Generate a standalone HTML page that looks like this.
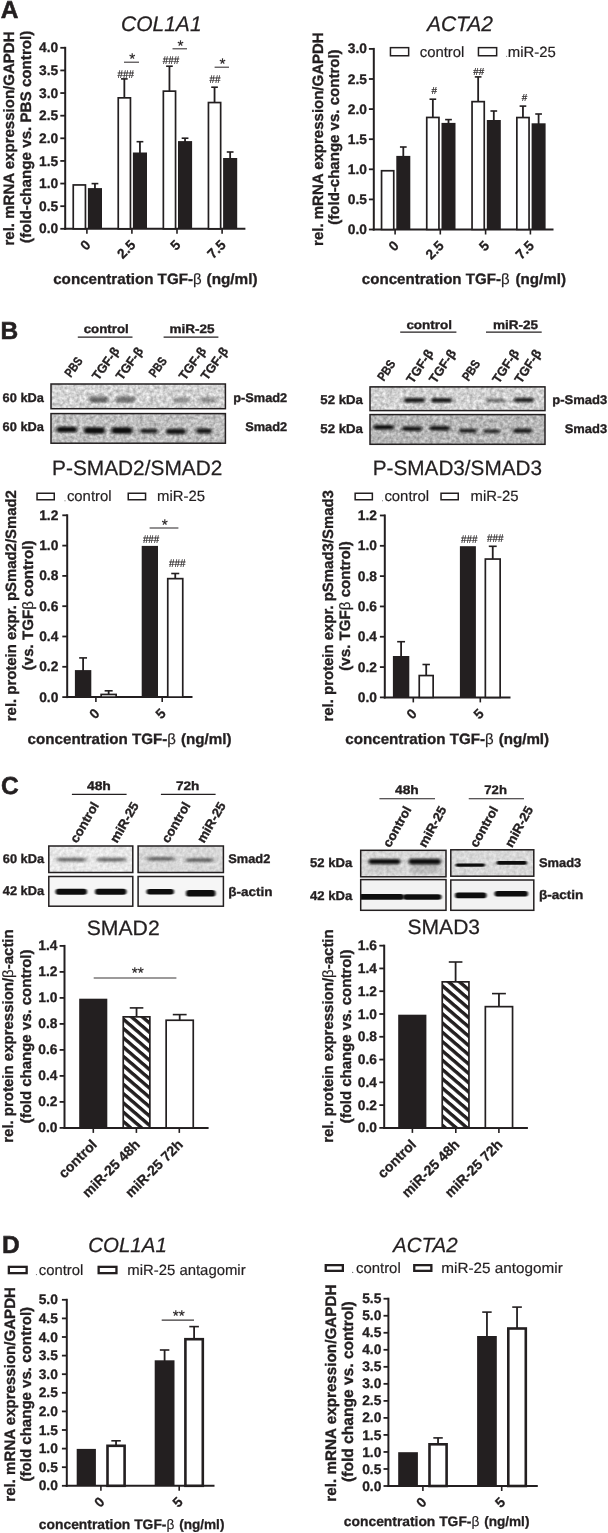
<!DOCTYPE html>
<html><head><meta charset="utf-8"><title>Figure</title>
<style>
html,body{margin:0;padding:0;background:#fff;}
body{width:608px;height:1533px;overflow:hidden;font-family:"Liberation Sans",sans-serif;}
svg{display:block;font-family:"Liberation Sans",sans-serif;will-change:transform;text-rendering:geometricPrecision;}
</style></head><body>
<svg width="608" height="1533" viewBox="0 0 608 1533">
<defs>
<pattern id="hatch" width="7.06" height="7.06" patternUnits="userSpaceOnUse" patternTransform="rotate(40.6)">
<rect width="7.06" height="7.06" fill="#fff"/><rect x="0" y="0" width="7.06" height="3.4" fill="#231f20"/></pattern>
<filter id="b1" x="-30%" y="-200%" width="160%" height="500%"><feGaussianBlur stdDeviation="1.7 0.9"/></filter>
<filter id="b2" x="-30%" y="-200%" width="160%" height="500%"><feGaussianBlur stdDeviation="2 1.1"/></filter>
<filter id="b3" x="-30%" y="-100%" width="160%" height="300%"><feGaussianBlur stdDeviation="1 0.6"/></filter>
<filter id="grain" x="0" y="0" width="100%" height="100%" color-interpolation-filters="sRGB"><feTurbulence type="fractalNoise" baseFrequency="0.3" numOctaves="2" seed="5" result="t"/><feColorMatrix in="t" type="matrix" values="1 0 0 0 0  1 0 0 0 0  1 0 0 0 0  0 0 0 0 1" result="n"/><feComposite in="SourceGraphic" in2="n" operator="arithmetic" k1="0" k2="1" k3="0.45" k4="-0.225"/></filter>
<filter id="grain2" x="0" y="0" width="100%" height="100%" color-interpolation-filters="sRGB"><feTurbulence type="fractalNoise" baseFrequency="0.3" numOctaves="2" seed="9" result="t"/><feColorMatrix in="t" type="matrix" values="1 0 0 0 0  1 0 0 0 0  1 0 0 0 0  0 0 0 0 1" result="n"/><feComposite in="SourceGraphic" in2="n" operator="arithmetic" k1="0" k2="1" k3="0.22" k4="-0.11"/></filter>
</defs>
<text x="0.80" y="17.80" font-size="24.5" font-weight="bold" text-anchor="start" fill="#231f20" stroke="#231f20" stroke-width="0.54">A</text>
<text x="161.30" y="31.30" font-size="21" font-weight="normal" text-anchor="middle" font-style="italic" fill="#231f20" stroke="#231f20" stroke-width="0.25">COL1A1</text>
<text x="460.00" y="31.30" font-size="21" font-weight="normal" text-anchor="middle" font-style="italic" fill="#231f20" stroke="#231f20" stroke-width="0.25">ACTA2</text>
<line x1="65.20" y1="46.80" x2="65.20" y2="229.80" stroke="#231f20" stroke-width="2.0" stroke-linecap="butt"/>
<line x1="64.20" y1="228.80" x2="245.40" y2="228.80" stroke="#231f20" stroke-width="2.0" stroke-linecap="butt"/>
<line x1="60.30" y1="228.80" x2="65.20" y2="228.80" stroke="#231f20" stroke-width="1.8" stroke-linecap="butt"/>
<text x="58.15" y="233.38" font-size="13.8" font-weight="bold" text-anchor="end" fill="#231f20" stroke="#231f20" stroke-width="0.30">0.0</text>
<line x1="60.30" y1="206.18" x2="65.20" y2="206.18" stroke="#231f20" stroke-width="1.8" stroke-linecap="butt"/>
<text x="58.15" y="210.76" font-size="13.8" font-weight="bold" text-anchor="end" fill="#231f20" stroke="#231f20" stroke-width="0.30">0.5</text>
<line x1="60.30" y1="183.55" x2="65.20" y2="183.55" stroke="#231f20" stroke-width="1.8" stroke-linecap="butt"/>
<text x="58.15" y="188.13" font-size="13.8" font-weight="bold" text-anchor="end" fill="#231f20" stroke="#231f20" stroke-width="0.30">1.0</text>
<line x1="60.30" y1="160.93" x2="65.20" y2="160.93" stroke="#231f20" stroke-width="1.8" stroke-linecap="butt"/>
<text x="58.15" y="165.51" font-size="13.8" font-weight="bold" text-anchor="end" fill="#231f20" stroke="#231f20" stroke-width="0.30">1.5</text>
<line x1="60.30" y1="138.30" x2="65.20" y2="138.30" stroke="#231f20" stroke-width="1.8" stroke-linecap="butt"/>
<text x="58.15" y="142.88" font-size="13.8" font-weight="bold" text-anchor="end" fill="#231f20" stroke="#231f20" stroke-width="0.30">2.0</text>
<line x1="60.30" y1="115.68" x2="65.20" y2="115.68" stroke="#231f20" stroke-width="1.8" stroke-linecap="butt"/>
<text x="58.15" y="120.26" font-size="13.8" font-weight="bold" text-anchor="end" fill="#231f20" stroke="#231f20" stroke-width="0.30">2.5</text>
<line x1="60.30" y1="93.05" x2="65.20" y2="93.05" stroke="#231f20" stroke-width="1.8" stroke-linecap="butt"/>
<text x="58.15" y="97.63" font-size="13.8" font-weight="bold" text-anchor="end" fill="#231f20" stroke="#231f20" stroke-width="0.30">3.0</text>
<line x1="60.30" y1="70.43" x2="65.20" y2="70.43" stroke="#231f20" stroke-width="1.8" stroke-linecap="butt"/>
<text x="58.15" y="75.01" font-size="13.8" font-weight="bold" text-anchor="end" fill="#231f20" stroke="#231f20" stroke-width="0.30">3.5</text>
<line x1="60.30" y1="47.80" x2="65.20" y2="47.80" stroke="#231f20" stroke-width="1.8" stroke-linecap="butt"/>
<text x="58.15" y="52.38" font-size="13.8" font-weight="bold" text-anchor="end" fill="#231f20" stroke="#231f20" stroke-width="0.30">4.0</text>
<text x="14.00" y="138.50" font-size="15.02" font-weight="bold" text-anchor="middle" transform="rotate(-90 14.00 138.50)" fill="#231f20" textLength="214.0" lengthAdjust="spacingAndGlyphs" stroke="#231f20" stroke-width="0.33">rel. mRNA expression/GAPDH</text>
<text x="31.00" y="136.85" font-size="15.16" font-weight="bold" text-anchor="middle" transform="rotate(-90 31.00 136.85)" fill="#231f20" textLength="212.3" lengthAdjust="spacingAndGlyphs" stroke="#231f20" stroke-width="0.33">(fold-change vs. PBS control)</text>
<rect x="73.25" y="184.95" width="12.20" height="43.85" fill="#fff" stroke="#231f20" stroke-width="1.7" />
<line x1="94.95" y1="183.60" x2="94.95" y2="189.10" stroke="#231f20" stroke-width="1.8" stroke-linecap="butt"/>
<line x1="91.57" y1="183.60" x2="98.33" y2="183.60" stroke="#231f20" stroke-width="1.6" stroke-linecap="butt"/>
<rect x="87.90" y="188.10" width="14.10" height="40.70" fill="#231f20" />
<line x1="86.90" y1="228.80" x2="86.90" y2="233.80" stroke="#231f20" stroke-width="1.6" stroke-linecap="butt"/>
<text x="91.40" y="245.90" font-size="13.8" font-weight="bold" text-anchor="end" transform="rotate(-45 91.40 245.90)" fill="#231f20" stroke="#231f20" stroke-width="0.30">0</text>
<line x1="124.35" y1="78.90" x2="124.35" y2="98.00" stroke="#231f20" stroke-width="1.8" stroke-linecap="butt"/>
<line x1="121.01" y1="78.90" x2="127.69" y2="78.90" stroke="#231f20" stroke-width="1.6" stroke-linecap="butt"/>
<rect x="118.25" y="97.85" width="12.20" height="130.95" fill="#fff" stroke="#231f20" stroke-width="1.7" />
<line x1="139.95" y1="141.70" x2="139.95" y2="153.50" stroke="#231f20" stroke-width="1.8" stroke-linecap="butt"/>
<line x1="136.57" y1="141.70" x2="143.33" y2="141.70" stroke="#231f20" stroke-width="1.6" stroke-linecap="butt"/>
<rect x="132.90" y="152.50" width="14.10" height="76.30" fill="#231f20" />
<line x1="131.90" y1="228.80" x2="131.90" y2="233.80" stroke="#231f20" stroke-width="1.6" stroke-linecap="butt"/>
<text x="136.40" y="245.90" font-size="13.8" font-weight="bold" text-anchor="end" transform="rotate(-45 136.40 245.90)" fill="#231f20" stroke="#231f20" stroke-width="0.30">2.5</text>
<line x1="169.45" y1="66.20" x2="169.45" y2="91.30" stroke="#231f20" stroke-width="1.8" stroke-linecap="butt"/>
<line x1="166.11" y1="66.20" x2="172.79" y2="66.20" stroke="#231f20" stroke-width="1.6" stroke-linecap="butt"/>
<rect x="163.35" y="91.15" width="12.20" height="137.65" fill="#fff" stroke="#231f20" stroke-width="1.7" />
<line x1="185.05" y1="138.20" x2="185.05" y2="142.10" stroke="#231f20" stroke-width="1.8" stroke-linecap="butt"/>
<line x1="181.67" y1="138.20" x2="188.43" y2="138.20" stroke="#231f20" stroke-width="1.6" stroke-linecap="butt"/>
<rect x="178.00" y="141.10" width="14.10" height="87.70" fill="#231f20" />
<line x1="177.00" y1="228.80" x2="177.00" y2="233.80" stroke="#231f20" stroke-width="1.6" stroke-linecap="butt"/>
<text x="181.50" y="245.90" font-size="13.8" font-weight="bold" text-anchor="end" transform="rotate(-45 181.50 245.90)" fill="#231f20" stroke="#231f20" stroke-width="0.30">5</text>
<line x1="214.55" y1="87.20" x2="214.55" y2="102.70" stroke="#231f20" stroke-width="1.8" stroke-linecap="butt"/>
<line x1="211.21" y1="87.20" x2="217.89" y2="87.20" stroke="#231f20" stroke-width="1.6" stroke-linecap="butt"/>
<rect x="208.45" y="102.55" width="12.20" height="126.25" fill="#fff" stroke="#231f20" stroke-width="1.7" />
<line x1="230.15" y1="152.00" x2="230.15" y2="159.00" stroke="#231f20" stroke-width="1.8" stroke-linecap="butt"/>
<line x1="226.77" y1="152.00" x2="233.53" y2="152.00" stroke="#231f20" stroke-width="1.6" stroke-linecap="butt"/>
<rect x="223.10" y="158.00" width="14.10" height="70.80" fill="#231f20" />
<line x1="222.10" y1="228.80" x2="222.10" y2="233.80" stroke="#231f20" stroke-width="1.6" stroke-linecap="butt"/>
<text x="226.60" y="245.90" font-size="13.8" font-weight="bold" text-anchor="end" transform="rotate(-45 226.60 245.90)" fill="#231f20" stroke="#231f20" stroke-width="0.30">7.5</text>
<text x="125.80" y="77.60" font-size="11.3" font-weight="normal" text-anchor="middle" fill="#231f20" textLength="16.4" lengthAdjust="spacingAndGlyphs" stroke="#231f20" stroke-width="0.2">###</text>
<line x1="124.00" y1="62.20" x2="139.00" y2="62.20" stroke="#3a3637" stroke-width="1.1" stroke-linecap="butt"/>
<text x="132.30" y="64.20" font-size="15.4" font-weight="normal" text-anchor="middle" fill="#231f20" stroke="#231f20" stroke-width="0.18">*</text>
<text x="171.00" y="64.00" font-size="11.3" font-weight="normal" text-anchor="middle" fill="#231f20" textLength="16.4" lengthAdjust="spacingAndGlyphs" stroke="#231f20" stroke-width="0.2">###</text>
<line x1="172.50" y1="48.80" x2="187.00" y2="48.80" stroke="#3a3637" stroke-width="1.1" stroke-linecap="butt"/>
<text x="180.55" y="50.80" font-size="15.4" font-weight="normal" text-anchor="middle" fill="#231f20" stroke="#231f20" stroke-width="0.18">*</text>
<text x="215.00" y="83.30" font-size="11.3" font-weight="normal" text-anchor="middle" fill="#231f20" textLength="10.9" lengthAdjust="spacingAndGlyphs" stroke="#231f20" stroke-width="0.2">##</text>
<line x1="214.60" y1="67.20" x2="229.00" y2="67.20" stroke="#3a3637" stroke-width="1.1" stroke-linecap="butt"/>
<text x="222.60" y="69.20" font-size="15.4" font-weight="normal" text-anchor="middle" fill="#231f20" stroke="#231f20" stroke-width="0.18">*</text>
<text x="53.20" y="284.20" font-size="15.0" font-weight="bold" text-anchor="start" fill="#231f20" textLength="139.8" lengthAdjust="spacingAndGlyphs" stroke="#231f20" stroke-width="0.33">concentration TGF-</text>
<text x="192.90" y="284.20" font-size="15.0" font-weight="normal" text-anchor="start" fill="#231f20" stroke="#231f20" stroke-width="0.18">β</text>
<text x="206.55" y="284.20" font-size="15.0" font-weight="bold" text-anchor="start" fill="#231f20" textLength="51.0" lengthAdjust="spacingAndGlyphs" stroke="#231f20" stroke-width="0.33">(ng/ml)</text>
<line x1="373.80" y1="47.90" x2="373.80" y2="230.50" stroke="#231f20" stroke-width="2.0" stroke-linecap="butt"/>
<line x1="372.80" y1="229.50" x2="553.50" y2="229.50" stroke="#231f20" stroke-width="2.0" stroke-linecap="butt"/>
<line x1="368.90" y1="229.50" x2="373.80" y2="229.50" stroke="#231f20" stroke-width="1.8" stroke-linecap="butt"/>
<text x="366.95" y="234.08" font-size="13.8" font-weight="bold" text-anchor="end" fill="#231f20" stroke="#231f20" stroke-width="0.30">0.0</text>
<line x1="368.90" y1="199.40" x2="373.80" y2="199.40" stroke="#231f20" stroke-width="1.8" stroke-linecap="butt"/>
<text x="366.95" y="203.98" font-size="13.8" font-weight="bold" text-anchor="end" fill="#231f20" stroke="#231f20" stroke-width="0.30">0.5</text>
<line x1="368.90" y1="169.30" x2="373.80" y2="169.30" stroke="#231f20" stroke-width="1.8" stroke-linecap="butt"/>
<text x="366.95" y="173.88" font-size="13.8" font-weight="bold" text-anchor="end" fill="#231f20" stroke="#231f20" stroke-width="0.30">1.0</text>
<line x1="368.90" y1="139.20" x2="373.80" y2="139.20" stroke="#231f20" stroke-width="1.8" stroke-linecap="butt"/>
<text x="366.95" y="143.78" font-size="13.8" font-weight="bold" text-anchor="end" fill="#231f20" stroke="#231f20" stroke-width="0.30">1.5</text>
<line x1="368.90" y1="109.10" x2="373.80" y2="109.10" stroke="#231f20" stroke-width="1.8" stroke-linecap="butt"/>
<text x="366.95" y="113.68" font-size="13.8" font-weight="bold" text-anchor="end" fill="#231f20" stroke="#231f20" stroke-width="0.30">2.0</text>
<line x1="368.90" y1="79.00" x2="373.80" y2="79.00" stroke="#231f20" stroke-width="1.8" stroke-linecap="butt"/>
<text x="366.95" y="83.58" font-size="13.8" font-weight="bold" text-anchor="end" fill="#231f20" stroke="#231f20" stroke-width="0.30">2.5</text>
<line x1="368.90" y1="48.90" x2="373.80" y2="48.90" stroke="#231f20" stroke-width="1.8" stroke-linecap="butt"/>
<text x="366.95" y="53.48" font-size="13.8" font-weight="bold" text-anchor="end" fill="#231f20" stroke="#231f20" stroke-width="0.30">3.0</text>
<text x="322.90" y="139.10" font-size="14.99" font-weight="bold" text-anchor="middle" transform="rotate(-90 322.90 139.10)" fill="#231f20" textLength="213.6" lengthAdjust="spacingAndGlyphs" stroke="#231f20" stroke-width="0.33">rel. mRNA expression/GAPDH</text>
<text x="339.20" y="137.05" font-size="15.02" font-weight="bold" text-anchor="middle" transform="rotate(-90 339.20 137.05)" fill="#231f20" textLength="175.3" lengthAdjust="spacingAndGlyphs" stroke="#231f20" stroke-width="0.33">(fold-change vs. control)</text>
<rect x="381.55" y="170.75" width="12.20" height="58.75" fill="#fff" stroke="#231f20" stroke-width="1.7" />
<line x1="403.30" y1="147.00" x2="403.30" y2="156.90" stroke="#231f20" stroke-width="1.8" stroke-linecap="butt"/>
<line x1="399.94" y1="147.00" x2="406.66" y2="147.00" stroke="#231f20" stroke-width="1.6" stroke-linecap="butt"/>
<rect x="396.30" y="155.90" width="14.00" height="73.60" fill="#231f20" />
<line x1="395.10" y1="229.50" x2="395.10" y2="234.50" stroke="#231f20" stroke-width="1.6" stroke-linecap="butt"/>
<text x="399.60" y="246.60" font-size="13.8" font-weight="bold" text-anchor="end" transform="rotate(-45 399.60 246.60)" fill="#231f20" stroke="#231f20" stroke-width="0.30">0</text>
<line x1="432.85" y1="99.20" x2="432.85" y2="117.60" stroke="#231f20" stroke-width="1.8" stroke-linecap="butt"/>
<line x1="429.51" y1="99.20" x2="436.19" y2="99.20" stroke="#231f20" stroke-width="1.6" stroke-linecap="butt"/>
<rect x="426.75" y="117.45" width="12.20" height="112.05" fill="#fff" stroke="#231f20" stroke-width="1.7" />
<line x1="448.50" y1="119.60" x2="448.50" y2="123.90" stroke="#231f20" stroke-width="1.8" stroke-linecap="butt"/>
<line x1="445.14" y1="119.60" x2="451.86" y2="119.60" stroke="#231f20" stroke-width="1.6" stroke-linecap="butt"/>
<rect x="441.50" y="122.90" width="14.00" height="106.60" fill="#231f20" />
<line x1="440.30" y1="229.50" x2="440.30" y2="234.50" stroke="#231f20" stroke-width="1.6" stroke-linecap="butt"/>
<text x="444.80" y="246.60" font-size="13.8" font-weight="bold" text-anchor="end" transform="rotate(-45 444.80 246.60)" fill="#231f20" stroke="#231f20" stroke-width="0.30">2.5</text>
<line x1="478.15" y1="76.90" x2="478.15" y2="101.80" stroke="#231f20" stroke-width="1.8" stroke-linecap="butt"/>
<line x1="474.81" y1="76.90" x2="481.49" y2="76.90" stroke="#231f20" stroke-width="1.6" stroke-linecap="butt"/>
<rect x="472.05" y="101.65" width="12.20" height="127.85" fill="#fff" stroke="#231f20" stroke-width="1.7" />
<line x1="493.80" y1="111.00" x2="493.80" y2="121.00" stroke="#231f20" stroke-width="1.8" stroke-linecap="butt"/>
<line x1="490.44" y1="111.00" x2="497.16" y2="111.00" stroke="#231f20" stroke-width="1.6" stroke-linecap="butt"/>
<rect x="486.80" y="120.00" width="14.00" height="109.50" fill="#231f20" />
<line x1="485.60" y1="229.50" x2="485.60" y2="234.50" stroke="#231f20" stroke-width="1.6" stroke-linecap="butt"/>
<text x="490.10" y="246.60" font-size="13.8" font-weight="bold" text-anchor="end" transform="rotate(-45 490.10 246.60)" fill="#231f20" stroke="#231f20" stroke-width="0.30">5</text>
<line x1="522.95" y1="106.10" x2="522.95" y2="117.70" stroke="#231f20" stroke-width="1.8" stroke-linecap="butt"/>
<line x1="519.61" y1="106.10" x2="526.29" y2="106.10" stroke="#231f20" stroke-width="1.6" stroke-linecap="butt"/>
<rect x="516.85" y="117.55" width="12.20" height="111.95" fill="#fff" stroke="#231f20" stroke-width="1.7" />
<line x1="538.60" y1="114.00" x2="538.60" y2="124.30" stroke="#231f20" stroke-width="1.8" stroke-linecap="butt"/>
<line x1="535.24" y1="114.00" x2="541.96" y2="114.00" stroke="#231f20" stroke-width="1.6" stroke-linecap="butt"/>
<rect x="531.60" y="123.30" width="14.00" height="106.20" fill="#231f20" />
<line x1="530.40" y1="229.50" x2="530.40" y2="234.50" stroke="#231f20" stroke-width="1.6" stroke-linecap="butt"/>
<text x="534.90" y="246.60" font-size="13.8" font-weight="bold" text-anchor="end" transform="rotate(-45 534.90 246.60)" fill="#231f20" stroke="#231f20" stroke-width="0.30">7.5</text>
<text x="434.30" y="93.70" font-size="10.2" font-weight="normal" text-anchor="middle" fill="#231f20" textLength="5.5" lengthAdjust="spacingAndGlyphs" stroke="#231f20" stroke-width="0.2">#</text>
<text x="478.70" y="75.10" font-size="10.2" font-weight="normal" text-anchor="middle" fill="#231f20" textLength="10.9" lengthAdjust="spacingAndGlyphs" stroke="#231f20" stroke-width="0.2">##</text>
<text x="524.50" y="101.30" font-size="10.2" font-weight="normal" text-anchor="middle" fill="#231f20" textLength="5.5" lengthAdjust="spacingAndGlyphs" stroke="#231f20" stroke-width="0.2">#</text>
<rect x="390.45" y="47.65" width="18.20" height="8.10" fill="#fff" stroke="#231f20" stroke-width="1.5" />
<text x="419.70" y="56.80" font-size="14.9" font-weight="normal" text-anchor="start" fill="#231f20" stroke="#231f20" stroke-width="0.18">control</text>
<rect x="478.45" y="47.65" width="18.20" height="8.10" fill="#fff" stroke="#231f20" stroke-width="1.5" />
<circle cx="506.6" cy="56.3" r="0.55" fill="#555"/>
<text x="507.80" y="56.80" font-size="14.9" font-weight="normal" text-anchor="start" fill="#231f20" stroke="#231f20" stroke-width="0.18">miR-25</text>
<text x="361.80" y="284.00" font-size="15.0" font-weight="bold" text-anchor="start" fill="#231f20" textLength="139.2" lengthAdjust="spacingAndGlyphs" stroke="#231f20" stroke-width="0.33">concentration TGF-</text>
<text x="500.90" y="284.00" font-size="15.0" font-weight="normal" text-anchor="start" fill="#231f20" stroke="#231f20" stroke-width="0.18">β</text>
<text x="515.45" y="284.00" font-size="15.0" font-weight="bold" text-anchor="start" fill="#231f20" textLength="50.6" lengthAdjust="spacingAndGlyphs" stroke="#231f20" stroke-width="0.33">(ng/ml)</text>
<text x="0.40" y="339.40" font-size="24.5" font-weight="bold" text-anchor="start" fill="#231f20" stroke="#231f20" stroke-width="0.54">B</text>
<text x="106.20" y="333.40" font-size="12.3" font-weight="bold" text-anchor="middle" fill="#231f20" textLength="45.0" lengthAdjust="spacingAndGlyphs" stroke="#231f20" stroke-width="0.35">control</text>
<line x1="77.80" y1="337.20" x2="132.50" y2="337.20" stroke="#231f20" stroke-width="1.2" stroke-linecap="butt"/>
<text x="192.00" y="333.40" font-size="12.3" font-weight="bold" text-anchor="middle" fill="#231f20" textLength="45.0" lengthAdjust="spacingAndGlyphs" stroke="#231f20" stroke-width="0.35">miR-25</text>
<line x1="163.60" y1="337.20" x2="218.40" y2="337.20" stroke="#231f20" stroke-width="1.2" stroke-linecap="butt"/>
<text x="70.80" y="378.00" font-size="12.6" font-weight="bold" text-anchor="start" transform="rotate(-54 70.80 378.00)" fill="#231f20" textLength="21.0" lengthAdjust="spacingAndGlyphs" stroke="#231f20" stroke-width="0.35">PBS</text>
<text x="98.30" y="381.00" font-size="12.6" font-weight="bold" text-anchor="start" transform="rotate(-54 98.30 381.00)" fill="#231f20" textLength="37.0" lengthAdjust="spacingAndGlyphs" stroke="#231f20" stroke-width="0.35">TGF-β</text>
<text x="122.00" y="381.00" font-size="12.6" font-weight="bold" text-anchor="start" transform="rotate(-54 122.00 381.00)" fill="#231f20" textLength="37.0" lengthAdjust="spacingAndGlyphs" stroke="#231f20" stroke-width="0.35">TGF-β</text>
<text x="155.10" y="378.00" font-size="12.6" font-weight="bold" text-anchor="start" transform="rotate(-54 155.10 378.00)" fill="#231f20" textLength="21.0" lengthAdjust="spacingAndGlyphs" stroke="#231f20" stroke-width="0.35">PBS</text>
<text x="185.00" y="381.00" font-size="12.6" font-weight="bold" text-anchor="start" transform="rotate(-54 185.00 381.00)" fill="#231f20" textLength="37.0" lengthAdjust="spacingAndGlyphs" stroke="#231f20" stroke-width="0.35">TGF-β</text>
<text x="206.90" y="381.00" font-size="12.6" font-weight="bold" text-anchor="start" transform="rotate(-54 206.90 381.00)" fill="#231f20" textLength="37.0" lengthAdjust="spacingAndGlyphs" stroke="#231f20" stroke-width="0.35">TGF-β</text>
<clipPath id="cb1"><rect x="51" y="384" width="174.4" height="24.69999999999999"/></clipPath>
<rect x="51.00" y="384.00" width="174.40" height="24.70" fill="#d3d3d3" filter="url(#grain)"/>
<g clip-path="url(#cb1)">
<rect x="89.0" y="396.5" width="19.0" height="6.0" rx="3.0" fill="#0c0c0c" opacity="0.55" filter="url(#b1)"/>
<rect x="116.0" y="396.5" width="19.0" height="6.0" rx="3.0" fill="#0c0c0c" opacity="0.5" filter="url(#b1)"/>
<rect x="149.0" y="399.5" width="9.0" height="3.0" rx="1.5" fill="#0c0c0c" opacity="0.12" filter="url(#b1)"/>
<rect x="173.0" y="397.2" width="17.0" height="5.5" rx="2.8" fill="#0c0c0c" opacity="0.33" filter="url(#b1)"/>
<rect x="199.0" y="397.2" width="17.0" height="5.5" rx="2.8" fill="#0c0c0c" opacity="0.33" filter="url(#b1)"/>
</g>
<rect x="51.00" y="384.00" width="174.40" height="24.70" fill="none" stroke="#231f20" stroke-width="1.5" />
<clipPath id="cb2"><rect x="51" y="413.6" width="174.4" height="29.599999999999966"/></clipPath>
<rect x="51.00" y="413.60" width="174.40" height="29.60" fill="#bfbfbf" filter="url(#grain)"/>
<g clip-path="url(#cb2)">
<rect x="56.5" y="426.8" width="20.5" height="5.5" rx="2.8" fill="#0c0c0c" opacity="1" filter="url(#b1)"/>
<rect x="84.0" y="427.2" width="21.0" height="6.5" rx="3.2" fill="#0c0c0c" opacity="1" filter="url(#b1)"/>
<rect x="111.5" y="427.2" width="21.0" height="6.5" rx="3.2" fill="#0c0c0c" opacity="1" filter="url(#b1)"/>
<rect x="140.0" y="428.8" width="18.0" height="4.5" rx="2.2" fill="#0c0c0c" opacity="0.9" filter="url(#b1)"/>
<rect x="166.0" y="428.8" width="20.0" height="5.5" rx="2.8" fill="#0c0c0c" opacity="0.95" filter="url(#b1)"/>
<rect x="196.0" y="428.5" width="16.0" height="5.0" rx="2.5" fill="#0c0c0c" opacity="0.95" filter="url(#b1)"/>
</g>
<rect x="51.00" y="413.60" width="174.40" height="29.60" fill="none" stroke="#231f20" stroke-width="1.5" />
<text x="2.60" y="402.00" font-size="12.7" font-weight="bold" text-anchor="start" fill="#231f20" textLength="41.3" lengthAdjust="spacingAndGlyphs" stroke="#231f20" stroke-width="0.35">60 kDa</text>
<text x="2.60" y="430.90" font-size="12.7" font-weight="bold" text-anchor="start" fill="#231f20" textLength="41.3" lengthAdjust="spacingAndGlyphs" stroke="#231f20" stroke-width="0.35">60 kDa</text>
<text x="287.20" y="402.10" font-size="12.5" font-weight="bold" text-anchor="end" fill="#231f20" textLength="54.0" lengthAdjust="spacingAndGlyphs" stroke="#231f20" stroke-width="0.35">p-Smad2</text>
<text x="287.20" y="431.20" font-size="12.5" font-weight="bold" text-anchor="end" fill="#231f20" textLength="42.0" lengthAdjust="spacingAndGlyphs" stroke="#231f20" stroke-width="0.35">Smad2</text>
<text x="429.20" y="329.20" font-size="12.3" font-weight="bold" text-anchor="middle" fill="#231f20" textLength="45.6" lengthAdjust="spacingAndGlyphs" stroke="#231f20" stroke-width="0.35">control</text>
<line x1="400.20" y1="332.20" x2="456.40" y2="332.20" stroke="#231f20" stroke-width="1.2" stroke-linecap="butt"/>
<text x="515.50" y="329.20" font-size="12.3" font-weight="bold" text-anchor="middle" fill="#231f20" textLength="45.2" lengthAdjust="spacingAndGlyphs" stroke="#231f20" stroke-width="0.35">miR-25</text>
<line x1="486.00" y1="332.20" x2="541.70" y2="332.20" stroke="#231f20" stroke-width="1.2" stroke-linecap="butt"/>
<text x="383.80" y="381.80" font-size="12.6" font-weight="bold" text-anchor="start" transform="rotate(-56 383.80 381.80)" fill="#231f20" textLength="22.0" lengthAdjust="spacingAndGlyphs" stroke="#231f20" stroke-width="0.35">PBS</text>
<text x="412.80" y="384.20" font-size="12.6" font-weight="bold" text-anchor="start" transform="rotate(-56 412.80 384.20)" fill="#231f20" textLength="37.5" lengthAdjust="spacingAndGlyphs" stroke="#231f20" stroke-width="0.35">TGF-β</text>
<text x="435.60" y="384.20" font-size="12.6" font-weight="bold" text-anchor="start" transform="rotate(-56 435.60 384.20)" fill="#231f20" textLength="37.5" lengthAdjust="spacingAndGlyphs" stroke="#231f20" stroke-width="0.35">TGF-β</text>
<text x="468.50" y="381.80" font-size="12.6" font-weight="bold" text-anchor="start" transform="rotate(-56 468.50 381.80)" fill="#231f20" textLength="22.0" lengthAdjust="spacingAndGlyphs" stroke="#231f20" stroke-width="0.35">PBS</text>
<text x="498.70" y="384.20" font-size="12.6" font-weight="bold" text-anchor="start" transform="rotate(-56 498.70 384.20)" fill="#231f20" textLength="37.5" lengthAdjust="spacingAndGlyphs" stroke="#231f20" stroke-width="0.35">TGF-β</text>
<text x="520.90" y="384.20" font-size="12.6" font-weight="bold" text-anchor="start" transform="rotate(-56 520.90 384.20)" fill="#231f20" textLength="37.5" lengthAdjust="spacingAndGlyphs" stroke="#231f20" stroke-width="0.35">TGF-β</text>
<clipPath id="cb3"><rect x="370" y="386.9" width="175" height="23.700000000000045"/></clipPath>
<rect x="370.00" y="386.90" width="175.00" height="23.70" fill="#d1d1d1" filter="url(#grain)"/>
<g clip-path="url(#cb3)">
<rect x="404.0" y="397.9" width="21.0" height="4.5" rx="2.2" fill="#0c0c0c" opacity="0.95" filter="url(#b1)"/>
<rect x="431.0" y="397.9" width="21.0" height="4.5" rx="2.2" fill="#0c0c0c" opacity="0.95" filter="url(#b1)"/>
<rect x="486.0" y="398.8" width="19.0" height="3.4" rx="1.7" fill="#0c0c0c" opacity="0.55" filter="url(#b1)"/>
<rect x="514.0" y="397.8" width="20.0" height="4.5" rx="2.2" fill="#0c0c0c" opacity="0.9" filter="url(#b1)"/>
</g>
<rect x="370.00" y="386.90" width="175.00" height="23.70" fill="none" stroke="#231f20" stroke-width="1.5" />
<clipPath id="cb4"><rect x="370" y="414.6" width="175" height="29.69999999999999"/></clipPath>
<rect x="370.00" y="414.60" width="175.00" height="29.70" fill="#b7b7b7" filter="url(#grain)"/>
<g clip-path="url(#cb4)">
<rect x="373.5" y="424.9" width="20.5" height="4.5" rx="2.2" fill="#0c0c0c" opacity="1" filter="url(#b1)"/>
<rect x="402.0" y="426.4" width="20.0" height="4.5" rx="2.2" fill="#0c0c0c" opacity="0.95" filter="url(#b1)"/>
<rect x="429.5" y="425.9" width="20.5" height="4.5" rx="2.2" fill="#0c0c0c" opacity="0.95" filter="url(#b1)"/>
<rect x="459.0" y="428.7" width="18.0" height="4.0" rx="2.0" fill="#0c0c0c" opacity="0.9" filter="url(#b1)"/>
<rect x="483.5" y="429.2" width="16.5" height="4.0" rx="2.0" fill="#0c0c0c" opacity="0.8" filter="url(#b1)"/>
<rect x="513.0" y="428.6" width="19.0" height="4.5" rx="2.2" fill="#0c0c0c" opacity="0.9" filter="url(#b1)"/>
</g>
<rect x="370.00" y="414.60" width="175.00" height="29.70" fill="none" stroke="#231f20" stroke-width="1.5" />
<text x="320.30" y="403.70" font-size="12.7" font-weight="bold" text-anchor="start" fill="#231f20" textLength="42.7" lengthAdjust="spacingAndGlyphs" stroke="#231f20" stroke-width="0.35">52 kDa</text>
<text x="320.30" y="432.80" font-size="12.7" font-weight="bold" text-anchor="start" fill="#231f20" textLength="42.7" lengthAdjust="spacingAndGlyphs" stroke="#231f20" stroke-width="0.35">52 kDa</text>
<text x="607.20" y="403.70" font-size="12.5" font-weight="bold" text-anchor="end" fill="#231f20" textLength="55.0" lengthAdjust="spacingAndGlyphs" stroke="#231f20" stroke-width="0.35">p-Smad3</text>
<text x="607.20" y="432.50" font-size="12.5" font-weight="bold" text-anchor="end" fill="#231f20" textLength="42.5" lengthAdjust="spacingAndGlyphs" stroke="#231f20" stroke-width="0.35">Smad3</text>
<text x="137.20" y="474.90" font-size="20.8" font-weight="normal" text-anchor="middle" fill="#231f20" textLength="170.3" lengthAdjust="spacingAndGlyphs" stroke="#231f20" stroke-width="0.25">P-SMAD2/SMAD2</text>
<text x="457.40" y="474.70" font-size="20.8" font-weight="normal" text-anchor="middle" fill="#231f20" textLength="169.2" lengthAdjust="spacingAndGlyphs" stroke="#231f20" stroke-width="0.25">P-SMAD3/SMAD3</text>
<rect x="37.05" y="493.25" width="17.20" height="6.50" fill="#fff" stroke="#231f20" stroke-width="1.5" />
<circle cx="65.0" cy="500.7" r="0.55" fill="#555"/>
<text x="66.90" y="501.20" font-size="14.9" font-weight="normal" text-anchor="start" fill="#231f20" stroke="#231f20" stroke-width="0.18">control</text>
<rect x="128.25" y="493.25" width="17.30" height="6.50" fill="#fff" stroke="#231f20" stroke-width="1.5" />
<text x="157.10" y="501.20" font-size="14.9" font-weight="normal" text-anchor="start" fill="#231f20" stroke="#231f20" stroke-width="0.18">miR-25</text>
<line x1="67.20" y1="514.30" x2="67.20" y2="698.10" stroke="#231f20" stroke-width="2.0" stroke-linecap="butt"/>
<line x1="66.20" y1="697.10" x2="192.50" y2="697.10" stroke="#231f20" stroke-width="2.0" stroke-linecap="butt"/>
<line x1="62.30" y1="697.10" x2="67.20" y2="697.10" stroke="#231f20" stroke-width="1.8" stroke-linecap="butt"/>
<text x="58.35" y="701.68" font-size="13.8" font-weight="bold" text-anchor="end" fill="#231f20" stroke="#231f20" stroke-width="0.30">0.0</text>
<line x1="62.30" y1="666.80" x2="67.20" y2="666.80" stroke="#231f20" stroke-width="1.8" stroke-linecap="butt"/>
<text x="58.35" y="671.38" font-size="13.8" font-weight="bold" text-anchor="end" fill="#231f20" stroke="#231f20" stroke-width="0.30">0.2</text>
<line x1="62.30" y1="636.50" x2="67.20" y2="636.50" stroke="#231f20" stroke-width="1.8" stroke-linecap="butt"/>
<text x="58.35" y="641.08" font-size="13.8" font-weight="bold" text-anchor="end" fill="#231f20" stroke="#231f20" stroke-width="0.30">0.4</text>
<line x1="62.30" y1="606.20" x2="67.20" y2="606.20" stroke="#231f20" stroke-width="1.8" stroke-linecap="butt"/>
<text x="58.35" y="610.78" font-size="13.8" font-weight="bold" text-anchor="end" fill="#231f20" stroke="#231f20" stroke-width="0.30">0.6</text>
<line x1="62.30" y1="575.90" x2="67.20" y2="575.90" stroke="#231f20" stroke-width="1.8" stroke-linecap="butt"/>
<text x="58.35" y="580.48" font-size="13.8" font-weight="bold" text-anchor="end" fill="#231f20" stroke="#231f20" stroke-width="0.30">0.8</text>
<line x1="62.30" y1="545.60" x2="67.20" y2="545.60" stroke="#231f20" stroke-width="1.8" stroke-linecap="butt"/>
<text x="58.35" y="550.18" font-size="13.8" font-weight="bold" text-anchor="end" fill="#231f20" stroke="#231f20" stroke-width="0.30">1.0</text>
<line x1="62.30" y1="515.30" x2="67.20" y2="515.30" stroke="#231f20" stroke-width="1.8" stroke-linecap="butt"/>
<text x="58.35" y="519.88" font-size="13.8" font-weight="bold" text-anchor="end" fill="#231f20" stroke="#231f20" stroke-width="0.30">1.2</text>
<text x="15.60" y="605.65" font-size="14.9" font-weight="bold" text-anchor="middle" transform="rotate(-90 15.60 605.65)" fill="#231f20" textLength="231.1" lengthAdjust="spacingAndGlyphs" stroke="#231f20" stroke-width="0.33">rel. protein expr. pSmad2/Smad2</text>
<text x="32.80" y="605.40" font-size="15.07" font-weight="bold" text-anchor="middle" transform="rotate(-90 32.80 605.40)" fill="#231f20" textLength="129.8" lengthAdjust="spacingAndGlyphs" stroke="#231f20" stroke-width="0.33">(vs. TGF<tspan font-weight="normal" stroke-width="0.15">β</tspan> control)</text>
<line x1="83.10" y1="657.90" x2="83.10" y2="671.10" stroke="#231f20" stroke-width="1.8" stroke-linecap="butt"/>
<line x1="79.16" y1="657.90" x2="87.04" y2="657.90" stroke="#231f20" stroke-width="1.6" stroke-linecap="butt"/>
<rect x="74.90" y="670.10" width="16.40" height="27.00" fill="#231f20" />
<line x1="108.65" y1="690.80" x2="108.65" y2="694.60" stroke="#231f20" stroke-width="1.8" stroke-linecap="butt"/>
<line x1="104.64" y1="690.80" x2="112.66" y2="690.80" stroke="#231f20" stroke-width="1.6" stroke-linecap="butt"/>
<rect x="101.15" y="694.45" width="15.00" height="2.65" fill="#fff" stroke="#231f20" stroke-width="1.7" />
<rect x="141.70" y="545.90" width="16.30" height="151.20" fill="#231f20" />
<line x1="175.25" y1="573.50" x2="175.25" y2="578.80" stroke="#231f20" stroke-width="1.8" stroke-linecap="butt"/>
<line x1="171.24" y1="573.50" x2="179.26" y2="573.50" stroke="#231f20" stroke-width="1.6" stroke-linecap="butt"/>
<rect x="167.75" y="578.65" width="15.00" height="118.45" fill="#fff" stroke="#231f20" stroke-width="1.7" />
<line x1="95.90" y1="697.10" x2="95.90" y2="702.10" stroke="#231f20" stroke-width="1.6" stroke-linecap="butt"/>
<text x="100.40" y="714.20" font-size="13.8" font-weight="bold" text-anchor="end" transform="rotate(-45 100.40 714.20)" fill="#231f20" stroke="#231f20" stroke-width="0.30">0</text>
<line x1="162.20" y1="697.10" x2="162.20" y2="702.10" stroke="#231f20" stroke-width="1.6" stroke-linecap="butt"/>
<text x="166.70" y="714.20" font-size="13.8" font-weight="bold" text-anchor="end" transform="rotate(-45 166.70 714.20)" fill="#231f20" stroke="#231f20" stroke-width="0.30">5</text>
<text x="151.10" y="543.00" font-size="11.3" font-weight="normal" text-anchor="middle" fill="#231f20" textLength="16.4" lengthAdjust="spacingAndGlyphs" stroke="#231f20" stroke-width="0.2">###</text>
<text x="177.20" y="567.30" font-size="11.3" font-weight="normal" text-anchor="middle" fill="#231f20" textLength="16.4" lengthAdjust="spacingAndGlyphs" stroke="#231f20" stroke-width="0.2">###</text>
<line x1="149.60" y1="528.00" x2="178.40" y2="528.00" stroke="#3a3637" stroke-width="1.1" stroke-linecap="butt"/>
<text x="164.80" y="529.60" font-size="15.4" font-weight="normal" text-anchor="middle" fill="#231f20" stroke="#231f20" stroke-width="0.18">*</text>
<text x="27.60" y="743.90" font-size="15.0" font-weight="bold" text-anchor="start" fill="#231f20" textLength="139.8" lengthAdjust="spacingAndGlyphs" stroke="#231f20" stroke-width="0.33">concentration TGF-</text>
<text x="167.30" y="743.90" font-size="15.0" font-weight="normal" text-anchor="start" fill="#231f20" stroke="#231f20" stroke-width="0.18">β</text>
<text x="180.95" y="743.90" font-size="15.0" font-weight="bold" text-anchor="start" fill="#231f20" textLength="50.7" lengthAdjust="spacingAndGlyphs" stroke="#231f20" stroke-width="0.33">(ng/ml)</text>
<rect x="355.15" y="493.25" width="17.20" height="6.50" fill="#fff" stroke="#231f20" stroke-width="1.5" />
<circle cx="382.5" cy="500.7" r="0.55" fill="#555"/>
<text x="384.40" y="501.20" font-size="14.9" font-weight="normal" text-anchor="start" fill="#231f20" stroke="#231f20" stroke-width="0.18">control</text>
<rect x="441.05" y="493.25" width="17.20" height="6.50" fill="#fff" stroke="#231f20" stroke-width="1.5" />
<text x="470.60" y="501.20" font-size="14.9" font-weight="normal" text-anchor="start" fill="#231f20" stroke="#231f20" stroke-width="0.18">miR-25</text>
<line x1="384.80" y1="514.48" x2="384.80" y2="698.40" stroke="#231f20" stroke-width="2.0" stroke-linecap="butt"/>
<line x1="383.80" y1="697.40" x2="510.50" y2="697.40" stroke="#231f20" stroke-width="2.0" stroke-linecap="butt"/>
<line x1="379.90" y1="697.40" x2="384.80" y2="697.40" stroke="#231f20" stroke-width="1.8" stroke-linecap="butt"/>
<text x="376.95" y="701.98" font-size="13.8" font-weight="bold" text-anchor="end" fill="#231f20" stroke="#231f20" stroke-width="0.30">0.0</text>
<line x1="379.90" y1="667.08" x2="384.80" y2="667.08" stroke="#231f20" stroke-width="1.8" stroke-linecap="butt"/>
<text x="376.95" y="671.66" font-size="13.8" font-weight="bold" text-anchor="end" fill="#231f20" stroke="#231f20" stroke-width="0.30">0.2</text>
<line x1="379.90" y1="636.76" x2="384.80" y2="636.76" stroke="#231f20" stroke-width="1.8" stroke-linecap="butt"/>
<text x="376.95" y="641.34" font-size="13.8" font-weight="bold" text-anchor="end" fill="#231f20" stroke="#231f20" stroke-width="0.30">0.4</text>
<line x1="379.90" y1="606.44" x2="384.80" y2="606.44" stroke="#231f20" stroke-width="1.8" stroke-linecap="butt"/>
<text x="376.95" y="611.02" font-size="13.8" font-weight="bold" text-anchor="end" fill="#231f20" stroke="#231f20" stroke-width="0.30">0.6</text>
<line x1="379.90" y1="576.12" x2="384.80" y2="576.12" stroke="#231f20" stroke-width="1.8" stroke-linecap="butt"/>
<text x="376.95" y="580.70" font-size="13.8" font-weight="bold" text-anchor="end" fill="#231f20" stroke="#231f20" stroke-width="0.30">0.8</text>
<line x1="379.90" y1="545.80" x2="384.80" y2="545.80" stroke="#231f20" stroke-width="1.8" stroke-linecap="butt"/>
<text x="376.95" y="550.38" font-size="13.8" font-weight="bold" text-anchor="end" fill="#231f20" stroke="#231f20" stroke-width="0.30">1.0</text>
<line x1="379.90" y1="515.48" x2="384.80" y2="515.48" stroke="#231f20" stroke-width="1.8" stroke-linecap="butt"/>
<text x="376.95" y="520.06" font-size="13.8" font-weight="bold" text-anchor="end" fill="#231f20" stroke="#231f20" stroke-width="0.30">1.2</text>
<text x="332.90" y="605.80" font-size="14.92" font-weight="bold" text-anchor="middle" transform="rotate(-90 332.90 605.80)" fill="#231f20" textLength="231.4" lengthAdjust="spacingAndGlyphs" stroke="#231f20" stroke-width="0.33">rel. protein expr. pSmad3/Smad3</text>
<text x="350.00" y="605.90" font-size="15.05" font-weight="bold" text-anchor="middle" transform="rotate(-90 350.00 605.90)" fill="#231f20" textLength="129.6" lengthAdjust="spacingAndGlyphs" stroke="#231f20" stroke-width="0.33">(vs. TGF<tspan font-weight="normal" stroke-width="0.15">β</tspan> control)</text>
<line x1="401.10" y1="641.70" x2="401.10" y2="657.00" stroke="#231f20" stroke-width="1.8" stroke-linecap="butt"/>
<line x1="397.16" y1="641.70" x2="405.04" y2="641.70" stroke="#231f20" stroke-width="1.6" stroke-linecap="butt"/>
<rect x="392.90" y="656.00" width="16.40" height="41.40" fill="#231f20" />
<line x1="426.20" y1="664.50" x2="426.20" y2="675.70" stroke="#231f20" stroke-width="1.8" stroke-linecap="butt"/>
<line x1="422.46" y1="664.50" x2="429.94" y2="664.50" stroke="#231f20" stroke-width="1.6" stroke-linecap="butt"/>
<rect x="419.25" y="675.55" width="13.90" height="21.85" fill="#fff" stroke="#231f20" stroke-width="1.7" />
<rect x="459.90" y="546.20" width="16.00" height="151.20" fill="#231f20" />
<line x1="492.75" y1="546.30" x2="492.75" y2="559.20" stroke="#231f20" stroke-width="1.8" stroke-linecap="butt"/>
<line x1="488.79" y1="546.30" x2="496.71" y2="546.30" stroke="#231f20" stroke-width="1.6" stroke-linecap="butt"/>
<rect x="485.35" y="559.05" width="14.80" height="138.35" fill="#fff" stroke="#231f20" stroke-width="1.7" />
<line x1="413.30" y1="697.40" x2="413.30" y2="702.40" stroke="#231f20" stroke-width="1.6" stroke-linecap="butt"/>
<text x="417.80" y="714.50" font-size="13.8" font-weight="bold" text-anchor="end" transform="rotate(-45 417.80 714.50)" fill="#231f20" stroke="#231f20" stroke-width="0.30">0</text>
<line x1="480.30" y1="697.40" x2="480.30" y2="702.40" stroke="#231f20" stroke-width="1.6" stroke-linecap="butt"/>
<text x="484.80" y="714.50" font-size="13.8" font-weight="bold" text-anchor="end" transform="rotate(-45 484.80 714.50)" fill="#231f20" stroke="#231f20" stroke-width="0.30">5</text>
<text x="469.20" y="543.20" font-size="11.3" font-weight="normal" text-anchor="middle" fill="#231f20" textLength="16.4" lengthAdjust="spacingAndGlyphs" stroke="#231f20" stroke-width="0.2">###</text>
<text x="495.20" y="542.00" font-size="11.3" font-weight="normal" text-anchor="middle" fill="#231f20" textLength="16.4" lengthAdjust="spacingAndGlyphs" stroke="#231f20" stroke-width="0.2">###</text>
<text x="345.30" y="743.90" font-size="15.0" font-weight="bold" text-anchor="start" fill="#231f20" textLength="139.8" lengthAdjust="spacingAndGlyphs" stroke="#231f20" stroke-width="0.33">concentration TGF-</text>
<text x="485.00" y="743.90" font-size="15.0" font-weight="normal" text-anchor="start" fill="#231f20" stroke="#231f20" stroke-width="0.18">β</text>
<text x="498.65" y="743.90" font-size="15.0" font-weight="bold" text-anchor="start" fill="#231f20" textLength="50.5" lengthAdjust="spacingAndGlyphs" stroke="#231f20" stroke-width="0.33">(ng/ml)</text>
<text x="1.00" y="794.30" font-size="24.5" font-weight="bold" text-anchor="start" fill="#231f20" stroke="#231f20" stroke-width="0.54">C</text>
<text x="98.90" y="790.00" font-size="12.3" font-weight="bold" text-anchor="middle" fill="#231f20" textLength="24.0" lengthAdjust="spacingAndGlyphs" stroke="#231f20" stroke-width="0.35">48h</text>
<line x1="71.90" y1="794.40" x2="126.60" y2="794.40" stroke="#231f20" stroke-width="1.2" stroke-linecap="butt"/>
<text x="187.70" y="790.00" font-size="12.3" font-weight="bold" text-anchor="middle" fill="#231f20" textLength="23.5" lengthAdjust="spacingAndGlyphs" stroke="#231f20" stroke-width="0.35">72h</text>
<line x1="160.90" y1="794.40" x2="215.60" y2="794.40" stroke="#231f20" stroke-width="1.2" stroke-linecap="butt"/>
<text x="77.00" y="843.80" font-size="12.8" font-weight="bold" text-anchor="start" transform="rotate(-60 77.00 843.80)" fill="#231f20" textLength="44.5" lengthAdjust="spacingAndGlyphs" stroke="#231f20" stroke-width="0.35">control</text>
<text x="117.00" y="843.80" font-size="12.8" font-weight="bold" text-anchor="start" transform="rotate(-60 117.00 843.80)" fill="#231f20" textLength="44.5" lengthAdjust="spacingAndGlyphs" stroke="#231f20" stroke-width="0.35">miR-25</text>
<text x="168.50" y="843.80" font-size="12.8" font-weight="bold" text-anchor="start" transform="rotate(-60 168.50 843.80)" fill="#231f20" textLength="44.5" lengthAdjust="spacingAndGlyphs" stroke="#231f20" stroke-width="0.35">control</text>
<text x="203.90" y="843.80" font-size="12.8" font-weight="bold" text-anchor="start" transform="rotate(-60 203.90 843.80)" fill="#231f20" textLength="44.5" lengthAdjust="spacingAndGlyphs" stroke="#231f20" stroke-width="0.35">miR-25</text>
<clipPath id="cc1"><rect x="48.8" y="846" width="84.00000000000001" height="26.5"/></clipPath>
<rect x="48.80" y="846.00" width="84.00" height="26.50" fill="#e8e8e8" filter="url(#grain2)"/>
<g clip-path="url(#cc1)">
<rect x="57.0" y="857.8" width="29.0" height="3.8" rx="1.9" fill="#1c1c1c" opacity="0.62" filter="url(#b2)"/>
<rect x="97.0" y="857.8" width="29.0" height="3.8" rx="1.9" fill="#1c1c1c" opacity="0.62" filter="url(#b2)"/>
</g>
<rect x="48.80" y="846.00" width="84.00" height="26.50" fill="none" stroke="#231f20" stroke-width="1.5" />
<clipPath id="cc2"><rect x="138.1" y="846" width="85.30000000000001" height="26.5"/></clipPath>
<rect x="138.10" y="846.00" width="85.30" height="26.50" fill="#d8d8d8" filter="url(#grain2)"/>
<g clip-path="url(#cc2)">
<rect x="147.0" y="856.9" width="27.5" height="3.8" rx="1.9" fill="#1c1c1c" opacity="0.6" filter="url(#b2)"/>
<rect x="186.0" y="858.1" width="27.5" height="3.8" rx="1.9" fill="#1c1c1c" opacity="0.6" filter="url(#b2)"/>
</g>
<rect x="138.10" y="846.00" width="85.30" height="26.50" fill="none" stroke="#231f20" stroke-width="1.5" />
<clipPath id="cc3"><rect x="48.8" y="876.5" width="84.00000000000001" height="29.700000000000045"/></clipPath>
<rect x="48.80" y="876.50" width="84.00" height="29.70" fill="#f6f6f6" />
<g clip-path="url(#cc3)">
<rect x="55.5" y="888.7" width="31.5" height="6.0" rx="3.0" fill="#0c0c0c" opacity="1.0" filter="url(#b3)"/>
<rect x="95.0" y="888.7" width="31.5" height="6.0" rx="3.0" fill="#0c0c0c" opacity="1.0" filter="url(#b3)"/>
</g>
<rect x="48.80" y="876.50" width="84.00" height="29.70" fill="none" stroke="#231f20" stroke-width="1.5" />
<clipPath id="cc4"><rect x="138.1" y="876.5" width="85.30000000000001" height="29.700000000000045"/></clipPath>
<rect x="138.10" y="876.50" width="85.30" height="29.70" fill="#f6f6f6" />
<g clip-path="url(#cc4)">
<rect x="146.5" y="889.1" width="27.5" height="5.5" rx="2.8" fill="#0c0c0c" opacity="1.0" filter="url(#b3)"/>
<rect x="186.0" y="890.1" width="29.5" height="6.5" rx="3.2" fill="#0c0c0c" opacity="1.0" filter="url(#b3)"/>
</g>
<rect x="138.10" y="876.50" width="85.30" height="29.70" fill="none" stroke="#231f20" stroke-width="1.5" />
<text x="2.80" y="863.30" font-size="12.7" font-weight="bold" text-anchor="start" fill="#231f20" textLength="41.3" lengthAdjust="spacingAndGlyphs" stroke="#231f20" stroke-width="0.35">60 kDa</text>
<text x="2.80" y="895.40" font-size="12.7" font-weight="bold" text-anchor="start" fill="#231f20" textLength="41.3" lengthAdjust="spacingAndGlyphs" stroke="#231f20" stroke-width="0.35">42 kDa</text>
<text x="228.30" y="863.10" font-size="12.5" font-weight="bold" text-anchor="start" fill="#231f20" textLength="42.0" lengthAdjust="spacingAndGlyphs" stroke="#231f20" stroke-width="0.35">Smad2</text>
<text x="228.30" y="896.00" font-size="12.5" font-weight="bold" text-anchor="start" fill="#231f20" textLength="44.3" lengthAdjust="spacingAndGlyphs" stroke="#231f20" stroke-width="0.35">β-actin</text>
<text x="406.90" y="793.75" font-size="12.3" font-weight="bold" text-anchor="middle" fill="#231f20" textLength="23.8" lengthAdjust="spacingAndGlyphs" stroke="#231f20" stroke-width="0.35">48h</text>
<line x1="379.40" y1="798.75" x2="435.00" y2="798.75" stroke="#231f20" stroke-width="1.2" stroke-linecap="butt"/>
<text x="495.60" y="793.75" font-size="12.3" font-weight="bold" text-anchor="middle" fill="#231f20" textLength="22.6" lengthAdjust="spacingAndGlyphs" stroke="#231f20" stroke-width="0.35">72h</text>
<line x1="468.75" y1="798.75" x2="524.00" y2="798.75" stroke="#231f20" stroke-width="1.2" stroke-linecap="butt"/>
<text x="390.10" y="848.20" font-size="12.8" font-weight="bold" text-anchor="start" transform="rotate(-61 390.10 848.20)" fill="#231f20" textLength="44.5" lengthAdjust="spacingAndGlyphs" stroke="#231f20" stroke-width="0.35">control</text>
<text x="425.40" y="848.20" font-size="12.8" font-weight="bold" text-anchor="start" transform="rotate(-61 425.40 848.20)" fill="#231f20" textLength="44.5" lengthAdjust="spacingAndGlyphs" stroke="#231f20" stroke-width="0.35">miR-25</text>
<text x="477.00" y="848.20" font-size="12.8" font-weight="bold" text-anchor="start" transform="rotate(-61 477.00 848.20)" fill="#231f20" textLength="44.5" lengthAdjust="spacingAndGlyphs" stroke="#231f20" stroke-width="0.35">control</text>
<text x="512.00" y="848.20" font-size="12.8" font-weight="bold" text-anchor="start" transform="rotate(-61 512.00 848.20)" fill="#231f20" textLength="44.5" lengthAdjust="spacingAndGlyphs" stroke="#231f20" stroke-width="0.35">miR-25</text>
<clipPath id="cc5"><rect x="360.7" y="850.3" width="85.30000000000001" height="26.5"/></clipPath>
<rect x="360.70" y="850.30" width="85.30" height="26.50" fill="#d8d8d8" filter="url(#grain2)"/>
<g clip-path="url(#cc5)">
<rect x="410.0" y="865.0" width="30.0" height="9.0" rx="4.5" fill="#000" opacity="0.13" filter="url(#b2)"/>
<rect x="368.0" y="865.5" width="32.0" height="8.0" rx="4.0" fill="#000" opacity="0.06" filter="url(#b2)"/>
<rect x="368.5" y="858.9" width="32.0" height="5.4" rx="2.7" fill="#0c0c0c" opacity="1" filter="url(#b1)"/>
<rect x="408.5" y="858.7" width="32.5" height="5.8" rx="2.9" fill="#0c0c0c" opacity="1" filter="url(#b1)"/>
</g>
<rect x="360.70" y="850.30" width="85.30" height="26.50" fill="none" stroke="#231f20" stroke-width="1.5" />
<clipPath id="cc6"><rect x="450.8" y="849.8" width="82.99999999999994" height="26.40000000000009"/></clipPath>
<rect x="450.80" y="849.80" width="83.00" height="26.40" fill="#d8d8d8" filter="url(#grain2)"/>
<g clip-path="url(#cc6)">
<rect x="455.5" y="863.4" width="29.5" height="3.4" rx="1.7" fill="#0c0c0c" opacity="1" filter="url(#b3)"/>
<rect x="496.5" y="861.1" width="30.5" height="3.6" rx="1.8" fill="#0c0c0c" opacity="1" filter="url(#b3)"/>
</g>
<rect x="450.80" y="849.80" width="83.00" height="26.40" fill="none" stroke="#231f20" stroke-width="1.5" />
<clipPath id="cc7"><rect x="360.7" y="879.6" width="85.30000000000001" height="30.699999999999932"/></clipPath>
<rect x="360.70" y="879.60" width="85.30" height="30.70" fill="#f2f2f2" />
<g clip-path="url(#cc7)">
<rect x="358.0" y="894.1" width="46.0" height="5.6" rx="2.8" fill="#0c0c0c" opacity="1" filter="url(#b3)"/>
<rect x="403.0" y="894.2" width="38.5" height="5.6" rx="2.8" fill="#0c0c0c" opacity="1" filter="url(#b3)"/>
</g>
<rect x="360.70" y="879.60" width="85.30" height="30.70" fill="none" stroke="#231f20" stroke-width="1.5" />
<clipPath id="cc8"><rect x="450.8" y="880" width="82.99999999999994" height="30.299999999999955"/></clipPath>
<rect x="450.80" y="880.00" width="83.00" height="30.30" fill="#f2f2f2" />
<g clip-path="url(#cc8)">
<rect x="455.0" y="892.6" width="31.5" height="5.6" rx="2.8" fill="#0c0c0c" opacity="1" filter="url(#b3)"/>
<rect x="494.5" y="890.9" width="33.5" height="5.6" rx="2.8" fill="#0c0c0c" opacity="1" filter="url(#b3)"/>
</g>
<rect x="450.80" y="880.00" width="83.00" height="30.30" fill="none" stroke="#231f20" stroke-width="1.5" />
<text x="310.00" y="866.60" font-size="12.7" font-weight="bold" text-anchor="start" fill="#231f20" textLength="42.3" lengthAdjust="spacingAndGlyphs" stroke="#231f20" stroke-width="0.35">52 kDa</text>
<text x="310.00" y="900.40" font-size="12.7" font-weight="bold" text-anchor="start" fill="#231f20" textLength="42.3" lengthAdjust="spacingAndGlyphs" stroke="#231f20" stroke-width="0.35">42 kDa</text>
<text x="538.90" y="867.00" font-size="12.5" font-weight="bold" text-anchor="start" fill="#231f20" textLength="42.3" lengthAdjust="spacingAndGlyphs" stroke="#231f20" stroke-width="0.35">Smad3</text>
<text x="538.90" y="899.10" font-size="12.5" font-weight="bold" text-anchor="start" fill="#231f20" textLength="44.5" lengthAdjust="spacingAndGlyphs" stroke="#231f20" stroke-width="0.35">β-actin</text>
<text x="123.20" y="934.50" font-size="20.8" font-weight="normal" text-anchor="middle" fill="#231f20" textLength="73.0" lengthAdjust="spacingAndGlyphs" stroke="#231f20" stroke-width="0.25">SMAD2</text>
<text x="443.80" y="934.30" font-size="20.8" font-weight="normal" text-anchor="middle" fill="#231f20" textLength="72.5" lengthAdjust="spacingAndGlyphs" stroke="#231f20" stroke-width="0.25">SMAD3</text>
<line x1="64.50" y1="944.90" x2="64.50" y2="1128.90" stroke="#231f20" stroke-width="2.0" stroke-linecap="butt"/>
<line x1="63.50" y1="1127.90" x2="208.60" y2="1127.90" stroke="#231f20" stroke-width="2.0" stroke-linecap="butt"/>
<line x1="59.60" y1="1127.90" x2="64.50" y2="1127.90" stroke="#231f20" stroke-width="1.8" stroke-linecap="butt"/>
<text x="57.55" y="1132.48" font-size="13.8" font-weight="bold" text-anchor="end" fill="#231f20" stroke="#231f20" stroke-width="0.30">0.0</text>
<line x1="59.60" y1="1101.90" x2="64.50" y2="1101.90" stroke="#231f20" stroke-width="1.8" stroke-linecap="butt"/>
<text x="57.55" y="1106.48" font-size="13.8" font-weight="bold" text-anchor="end" fill="#231f20" stroke="#231f20" stroke-width="0.30">0.2</text>
<line x1="59.60" y1="1075.90" x2="64.50" y2="1075.90" stroke="#231f20" stroke-width="1.8" stroke-linecap="butt"/>
<text x="57.55" y="1080.48" font-size="13.8" font-weight="bold" text-anchor="end" fill="#231f20" stroke="#231f20" stroke-width="0.30">0.4</text>
<line x1="59.60" y1="1049.90" x2="64.50" y2="1049.90" stroke="#231f20" stroke-width="1.8" stroke-linecap="butt"/>
<text x="57.55" y="1054.48" font-size="13.8" font-weight="bold" text-anchor="end" fill="#231f20" stroke="#231f20" stroke-width="0.30">0.6</text>
<line x1="59.60" y1="1023.90" x2="64.50" y2="1023.90" stroke="#231f20" stroke-width="1.8" stroke-linecap="butt"/>
<text x="57.55" y="1028.48" font-size="13.8" font-weight="bold" text-anchor="end" fill="#231f20" stroke="#231f20" stroke-width="0.30">0.8</text>
<line x1="59.60" y1="997.90" x2="64.50" y2="997.90" stroke="#231f20" stroke-width="1.8" stroke-linecap="butt"/>
<text x="57.55" y="1002.48" font-size="13.8" font-weight="bold" text-anchor="end" fill="#231f20" stroke="#231f20" stroke-width="0.30">1.0</text>
<line x1="59.60" y1="971.90" x2="64.50" y2="971.90" stroke="#231f20" stroke-width="1.8" stroke-linecap="butt"/>
<text x="57.55" y="976.48" font-size="13.8" font-weight="bold" text-anchor="end" fill="#231f20" stroke="#231f20" stroke-width="0.30">1.2</text>
<line x1="59.60" y1="945.90" x2="64.50" y2="945.90" stroke="#231f20" stroke-width="1.8" stroke-linecap="butt"/>
<text x="57.55" y="950.48" font-size="13.8" font-weight="bold" text-anchor="end" fill="#231f20" stroke="#231f20" stroke-width="0.30">1.4</text>
<text x="13.10" y="1036.05" font-size="14.95" font-weight="bold" text-anchor="middle" transform="rotate(-90 13.10 1036.05)" fill="#231f20" textLength="213.5" lengthAdjust="spacingAndGlyphs" stroke="#231f20" stroke-width="0.33">rel. protein expression/<tspan font-weight="normal" stroke-width="0.15">β</tspan>-actin</text>
<text x="31.00" y="1036.40" font-size="14.97" font-weight="bold" text-anchor="middle" transform="rotate(-90 31.00 1036.40)" fill="#231f20" textLength="173.8" lengthAdjust="spacingAndGlyphs" stroke="#231f20" stroke-width="0.33">(fold change vs. control)</text>
<rect x="79.20" y="998.70" width="28.10" height="129.20" fill="#231f20" />
<line x1="136.55" y1="1007.90" x2="136.55" y2="1017.00" stroke="#231f20" stroke-width="1.8" stroke-linecap="butt"/>
<line x1="129.76" y1="1007.90" x2="143.34" y2="1007.90" stroke="#231f20" stroke-width="1.6" stroke-linecap="butt"/>
<rect x="123.25" y="1016.85" width="26.60" height="111.05" fill="url(#hatch)" stroke="#231f20" stroke-width="1.7" />
<line x1="179.70" y1="1014.60" x2="179.70" y2="1020.40" stroke="#231f20" stroke-width="1.8" stroke-linecap="butt"/>
<line x1="172.79" y1="1014.60" x2="186.61" y2="1014.60" stroke="#231f20" stroke-width="1.6" stroke-linecap="butt"/>
<rect x="166.15" y="1020.25" width="27.10" height="107.65" fill="#fff" stroke="#231f20" stroke-width="1.7" />
<line x1="93.30" y1="1127.90" x2="93.30" y2="1132.90" stroke="#231f20" stroke-width="1.6" stroke-linecap="butt"/>
<text x="97.80" y="1145.40" font-size="14.0" font-weight="bold" text-anchor="end" transform="rotate(-45 97.80 1145.40)" fill="#231f20" stroke="#231f20" stroke-width="0.31">control</text>
<line x1="136.40" y1="1127.90" x2="136.40" y2="1132.90" stroke="#231f20" stroke-width="1.6" stroke-linecap="butt"/>
<text x="140.90" y="1145.40" font-size="14.0" font-weight="bold" text-anchor="end" transform="rotate(-45 140.90 1145.40)" fill="#231f20" stroke="#231f20" stroke-width="0.31">miR-25 48h</text>
<line x1="179.30" y1="1127.90" x2="179.30" y2="1132.90" stroke="#231f20" stroke-width="1.6" stroke-linecap="butt"/>
<text x="183.80" y="1145.40" font-size="14.0" font-weight="bold" text-anchor="end" transform="rotate(-45 183.80 1145.40)" fill="#231f20" stroke="#231f20" stroke-width="0.31">miR-25 72h</text>
<line x1="93.70" y1="978.00" x2="176.40" y2="978.00" stroke="#3a3637" stroke-width="1.1" stroke-linecap="butt"/>
<text x="137.85" y="978.30" font-size="15.4" font-weight="normal" text-anchor="middle" fill="#231f20" stroke="#231f20" stroke-width="0.18">**</text>
<line x1="384.20" y1="944.66" x2="384.20" y2="1128.90" stroke="#231f20" stroke-width="2.0" stroke-linecap="butt"/>
<line x1="383.20" y1="1127.90" x2="527.90" y2="1127.90" stroke="#231f20" stroke-width="2.0" stroke-linecap="butt"/>
<line x1="379.30" y1="1127.90" x2="384.20" y2="1127.90" stroke="#231f20" stroke-width="1.8" stroke-linecap="butt"/>
<text x="377.05" y="1132.48" font-size="13.8" font-weight="bold" text-anchor="end" fill="#231f20" stroke="#231f20" stroke-width="0.30">0.0</text>
<line x1="379.30" y1="1105.12" x2="384.20" y2="1105.12" stroke="#231f20" stroke-width="1.8" stroke-linecap="butt"/>
<text x="377.05" y="1109.70" font-size="13.8" font-weight="bold" text-anchor="end" fill="#231f20" stroke="#231f20" stroke-width="0.30">0.2</text>
<line x1="379.30" y1="1082.34" x2="384.20" y2="1082.34" stroke="#231f20" stroke-width="1.8" stroke-linecap="butt"/>
<text x="377.05" y="1086.92" font-size="13.8" font-weight="bold" text-anchor="end" fill="#231f20" stroke="#231f20" stroke-width="0.30">0.4</text>
<line x1="379.30" y1="1059.56" x2="384.20" y2="1059.56" stroke="#231f20" stroke-width="1.8" stroke-linecap="butt"/>
<text x="377.05" y="1064.14" font-size="13.8" font-weight="bold" text-anchor="end" fill="#231f20" stroke="#231f20" stroke-width="0.30">0.6</text>
<line x1="379.30" y1="1036.78" x2="384.20" y2="1036.78" stroke="#231f20" stroke-width="1.8" stroke-linecap="butt"/>
<text x="377.05" y="1041.36" font-size="13.8" font-weight="bold" text-anchor="end" fill="#231f20" stroke="#231f20" stroke-width="0.30">0.8</text>
<line x1="379.30" y1="1014.00" x2="384.20" y2="1014.00" stroke="#231f20" stroke-width="1.8" stroke-linecap="butt"/>
<text x="377.05" y="1018.58" font-size="13.8" font-weight="bold" text-anchor="end" fill="#231f20" stroke="#231f20" stroke-width="0.30">1.0</text>
<line x1="379.30" y1="991.22" x2="384.20" y2="991.22" stroke="#231f20" stroke-width="1.8" stroke-linecap="butt"/>
<text x="377.05" y="995.80" font-size="13.8" font-weight="bold" text-anchor="end" fill="#231f20" stroke="#231f20" stroke-width="0.30">1.2</text>
<line x1="379.30" y1="968.44" x2="384.20" y2="968.44" stroke="#231f20" stroke-width="1.8" stroke-linecap="butt"/>
<text x="377.05" y="973.02" font-size="13.8" font-weight="bold" text-anchor="end" fill="#231f20" stroke="#231f20" stroke-width="0.30">1.4</text>
<line x1="379.30" y1="945.66" x2="384.20" y2="945.66" stroke="#231f20" stroke-width="1.8" stroke-linecap="butt"/>
<text x="377.05" y="950.24" font-size="13.8" font-weight="bold" text-anchor="end" fill="#231f20" stroke="#231f20" stroke-width="0.30">1.6</text>
<text x="332.90" y="1036.05" font-size="14.95" font-weight="bold" text-anchor="middle" transform="rotate(-90 332.90 1036.05)" fill="#231f20" textLength="213.5" lengthAdjust="spacingAndGlyphs" stroke="#231f20" stroke-width="0.33">rel. protein expression/<tspan font-weight="normal" stroke-width="0.15">β</tspan>-actin</text>
<text x="350.80" y="1036.40" font-size="14.97" font-weight="bold" text-anchor="middle" transform="rotate(-90 350.80 1036.40)" fill="#231f20" textLength="173.8" lengthAdjust="spacingAndGlyphs" stroke="#231f20" stroke-width="0.33">(fold change vs. control)</text>
<rect x="398.20" y="1014.70" width="28.20" height="113.20" fill="#231f20" />
<line x1="455.60" y1="962.00" x2="455.60" y2="982.00" stroke="#231f20" stroke-width="1.8" stroke-linecap="butt"/>
<line x1="448.78" y1="962.00" x2="462.42" y2="962.00" stroke="#231f20" stroke-width="1.6" stroke-linecap="butt"/>
<rect x="442.25" y="981.85" width="26.70" height="146.05" fill="url(#hatch)" stroke="#231f20" stroke-width="1.7" />
<line x1="498.95" y1="993.60" x2="498.95" y2="1006.80" stroke="#231f20" stroke-width="1.8" stroke-linecap="butt"/>
<line x1="492.01" y1="993.60" x2="505.89" y2="993.60" stroke="#231f20" stroke-width="1.6" stroke-linecap="butt"/>
<rect x="485.35" y="1006.65" width="27.20" height="121.25" fill="#fff" stroke="#231f20" stroke-width="1.7" />
<line x1="412.40" y1="1127.90" x2="412.40" y2="1132.90" stroke="#231f20" stroke-width="1.6" stroke-linecap="butt"/>
<text x="416.90" y="1145.40" font-size="14.0" font-weight="bold" text-anchor="end" transform="rotate(-45 416.90 1145.40)" fill="#231f20" stroke="#231f20" stroke-width="0.31">control</text>
<line x1="455.80" y1="1127.90" x2="455.80" y2="1132.90" stroke="#231f20" stroke-width="1.6" stroke-linecap="butt"/>
<text x="460.30" y="1145.40" font-size="14.0" font-weight="bold" text-anchor="end" transform="rotate(-45 460.30 1145.40)" fill="#231f20" stroke="#231f20" stroke-width="0.31">miR-25 48h</text>
<line x1="498.90" y1="1127.90" x2="498.90" y2="1132.90" stroke="#231f20" stroke-width="1.6" stroke-linecap="butt"/>
<text x="503.40" y="1145.40" font-size="14.0" font-weight="bold" text-anchor="end" transform="rotate(-45 503.40 1145.40)" fill="#231f20" stroke="#231f20" stroke-width="0.31">miR-25 72h</text>
<text x="2.10" y="1252.60" font-size="24.5" font-weight="bold" text-anchor="start" fill="#231f20" stroke="#231f20" stroke-width="0.54">D</text>
<text x="127.50" y="1252.30" font-size="20.5" font-weight="normal" text-anchor="middle" font-style="italic" fill="#231f20" stroke="#231f20" stroke-width="0.25">COL1A1</text>
<text x="425.30" y="1252.30" font-size="20.5" font-weight="normal" text-anchor="middle" font-style="italic" fill="#231f20" stroke="#231f20" stroke-width="0.25">ACTA2</text>
<rect x="8.85" y="1266.85" width="17.80" height="6.30" fill="#fff" stroke="#231f20" stroke-width="2.3" />
<circle cx="36.4" cy="1274.6" r="0.55" fill="#555"/>
<text x="38.70" y="1275.10" font-size="14.9" font-weight="normal" text-anchor="start" fill="#231f20" stroke="#231f20" stroke-width="0.18">control</text>
<rect x="98.65" y="1266.85" width="17.80" height="6.30" fill="#fff" stroke="#231f20" stroke-width="2.3" />
<text x="127.30" y="1275.10" font-size="14.9" font-weight="normal" text-anchor="start" fill="#231f20" stroke="#231f20" stroke-width="0.18">miR-25 antagomir</text>
<line x1="66.80" y1="1298.80" x2="66.80" y2="1486.80" stroke="#231f20" stroke-width="2.0" stroke-linecap="butt"/>
<line x1="65.80" y1="1485.80" x2="214.50" y2="1485.80" stroke="#231f20" stroke-width="2.0" stroke-linecap="butt"/>
<line x1="61.90" y1="1485.80" x2="66.80" y2="1485.80" stroke="#231f20" stroke-width="1.8" stroke-linecap="butt"/>
<text x="57.85" y="1490.38" font-size="13.8" font-weight="bold" text-anchor="end" fill="#231f20" stroke="#231f20" stroke-width="0.30">0.0</text>
<line x1="61.90" y1="1467.20" x2="66.80" y2="1467.20" stroke="#231f20" stroke-width="1.8" stroke-linecap="butt"/>
<text x="57.85" y="1471.78" font-size="13.8" font-weight="bold" text-anchor="end" fill="#231f20" stroke="#231f20" stroke-width="0.30">0.5</text>
<line x1="61.90" y1="1448.60" x2="66.80" y2="1448.60" stroke="#231f20" stroke-width="1.8" stroke-linecap="butt"/>
<text x="57.85" y="1453.18" font-size="13.8" font-weight="bold" text-anchor="end" fill="#231f20" stroke="#231f20" stroke-width="0.30">1.0</text>
<line x1="61.90" y1="1430.00" x2="66.80" y2="1430.00" stroke="#231f20" stroke-width="1.8" stroke-linecap="butt"/>
<text x="57.85" y="1434.58" font-size="13.8" font-weight="bold" text-anchor="end" fill="#231f20" stroke="#231f20" stroke-width="0.30">1.5</text>
<line x1="61.90" y1="1411.40" x2="66.80" y2="1411.40" stroke="#231f20" stroke-width="1.8" stroke-linecap="butt"/>
<text x="57.85" y="1415.98" font-size="13.8" font-weight="bold" text-anchor="end" fill="#231f20" stroke="#231f20" stroke-width="0.30">2.0</text>
<line x1="61.90" y1="1392.80" x2="66.80" y2="1392.80" stroke="#231f20" stroke-width="1.8" stroke-linecap="butt"/>
<text x="57.85" y="1397.38" font-size="13.8" font-weight="bold" text-anchor="end" fill="#231f20" stroke="#231f20" stroke-width="0.30">2.5</text>
<line x1="61.90" y1="1374.20" x2="66.80" y2="1374.20" stroke="#231f20" stroke-width="1.8" stroke-linecap="butt"/>
<text x="57.85" y="1378.78" font-size="13.8" font-weight="bold" text-anchor="end" fill="#231f20" stroke="#231f20" stroke-width="0.30">3.0</text>
<line x1="61.90" y1="1355.60" x2="66.80" y2="1355.60" stroke="#231f20" stroke-width="1.8" stroke-linecap="butt"/>
<text x="57.85" y="1360.18" font-size="13.8" font-weight="bold" text-anchor="end" fill="#231f20" stroke="#231f20" stroke-width="0.30">3.5</text>
<line x1="61.90" y1="1337.00" x2="66.80" y2="1337.00" stroke="#231f20" stroke-width="1.8" stroke-linecap="butt"/>
<text x="57.85" y="1341.58" font-size="13.8" font-weight="bold" text-anchor="end" fill="#231f20" stroke="#231f20" stroke-width="0.30">4.0</text>
<line x1="61.90" y1="1318.40" x2="66.80" y2="1318.40" stroke="#231f20" stroke-width="1.8" stroke-linecap="butt"/>
<text x="57.85" y="1322.98" font-size="13.8" font-weight="bold" text-anchor="end" fill="#231f20" stroke="#231f20" stroke-width="0.30">4.5</text>
<line x1="61.90" y1="1299.80" x2="66.80" y2="1299.80" stroke="#231f20" stroke-width="1.8" stroke-linecap="butt"/>
<text x="57.85" y="1304.38" font-size="13.8" font-weight="bold" text-anchor="end" fill="#231f20" stroke="#231f20" stroke-width="0.30">5.0</text>
<text x="14.80" y="1394.40" font-size="15.07" font-weight="bold" text-anchor="middle" transform="rotate(-90 14.80 1394.40)" fill="#231f20" textLength="214.6" lengthAdjust="spacingAndGlyphs" stroke="#231f20" stroke-width="0.33">rel. mRNA expression/GAPDH</text>
<text x="31.40" y="1394.15" font-size="15.03" font-weight="bold" text-anchor="middle" transform="rotate(-90 31.40 1394.15)" fill="#231f20" textLength="174.5" lengthAdjust="spacingAndGlyphs" stroke="#231f20" stroke-width="0.33">(fold change vs. control)</text>
<rect x="76.70" y="1448.90" width="19.20" height="36.90" fill="#231f20" />
<line x1="116.05" y1="1440.80" x2="116.05" y2="1445.50" stroke="#231f20" stroke-width="1.8" stroke-linecap="butt"/>
<line x1="111.32" y1="1440.80" x2="120.78" y2="1440.80" stroke="#231f20" stroke-width="1.6" stroke-linecap="butt"/>
<rect x="107.50" y="1445.80" width="17.10" height="40.00" fill="#fff" stroke="#231f20" stroke-width="2.6" />
<line x1="164.60" y1="1350.00" x2="164.60" y2="1361.30" stroke="#231f20" stroke-width="1.8" stroke-linecap="butt"/>
<line x1="159.85" y1="1350.00" x2="169.35" y2="1350.00" stroke="#231f20" stroke-width="1.6" stroke-linecap="butt"/>
<rect x="154.70" y="1360.30" width="19.80" height="125.50" fill="#231f20" />
<line x1="194.10" y1="1326.60" x2="194.10" y2="1338.90" stroke="#231f20" stroke-width="1.8" stroke-linecap="butt"/>
<line x1="189.30" y1="1326.60" x2="198.90" y2="1326.60" stroke="#231f20" stroke-width="1.6" stroke-linecap="butt"/>
<rect x="185.40" y="1339.20" width="17.40" height="146.60" fill="#fff" stroke="#231f20" stroke-width="2.6" />
<line x1="100.90" y1="1485.80" x2="100.90" y2="1490.80" stroke="#231f20" stroke-width="1.6" stroke-linecap="butt"/>
<text x="105.40" y="1502.90" font-size="13.8" font-weight="bold" text-anchor="end" transform="rotate(-45 105.40 1502.90)" fill="#231f20" stroke="#231f20" stroke-width="0.30">0</text>
<line x1="179.20" y1="1485.80" x2="179.20" y2="1490.80" stroke="#231f20" stroke-width="1.6" stroke-linecap="butt"/>
<text x="183.70" y="1502.90" font-size="13.8" font-weight="bold" text-anchor="end" transform="rotate(-45 183.70 1502.90)" fill="#231f20" stroke="#231f20" stroke-width="0.30">5</text>
<line x1="161.70" y1="1320.10" x2="194.00" y2="1320.10" stroke="#3a3637" stroke-width="1.1" stroke-linecap="butt"/>
<text x="178.65" y="1321.30" font-size="15.4" font-weight="normal" text-anchor="middle" fill="#231f20" stroke="#231f20" stroke-width="0.18">**</text>
<text x="38.85" y="1528.90" font-size="13.7" font-weight="bold" text-anchor="start" fill="#231f20" textLength="127.6" lengthAdjust="spacingAndGlyphs" stroke="#231f20" stroke-width="0.30">concentration TGF-</text>
<text x="166.40" y="1528.90" font-size="13.7" font-weight="normal" text-anchor="start" fill="#231f20" stroke="#231f20" stroke-width="0.16">β</text>
<text x="179.14" y="1528.90" font-size="13.7" font-weight="bold" text-anchor="start" fill="#231f20" textLength="45.3" lengthAdjust="spacingAndGlyphs" stroke="#231f20" stroke-width="0.30">(ng/ml)</text>
<rect x="325.75" y="1265.15" width="17.10" height="5.70" fill="#fff" stroke="#231f20" stroke-width="2.3" />
<circle cx="352.7" cy="1272.4" r="0.55" fill="#555"/>
<text x="356.00" y="1272.90" font-size="14.9" font-weight="normal" text-anchor="start" fill="#231f20" stroke="#231f20" stroke-width="0.18">control</text>
<rect x="414.25" y="1265.15" width="17.10" height="5.70" fill="#fff" stroke="#231f20" stroke-width="2.3" />
<text x="441.30" y="1272.90" font-size="14.9" font-weight="normal" text-anchor="start" fill="#231f20" textLength="121.5" lengthAdjust="spacingAndGlyphs" stroke="#231f20" stroke-width="0.18">miR-25 antogomir</text>
<line x1="388.40" y1="1297.72" x2="388.40" y2="1487.00" stroke="#231f20" stroke-width="2.0" stroke-linecap="butt"/>
<line x1="387.40" y1="1486.00" x2="537.80" y2="1486.00" stroke="#231f20" stroke-width="2.0" stroke-linecap="butt"/>
<line x1="383.50" y1="1486.00" x2="388.40" y2="1486.00" stroke="#231f20" stroke-width="1.8" stroke-linecap="butt"/>
<text x="381.35" y="1490.58" font-size="13.8" font-weight="bold" text-anchor="end" fill="#231f20" stroke="#231f20" stroke-width="0.30">0.0</text>
<line x1="383.50" y1="1468.97" x2="388.40" y2="1468.97" stroke="#231f20" stroke-width="1.8" stroke-linecap="butt"/>
<text x="381.35" y="1473.56" font-size="13.8" font-weight="bold" text-anchor="end" fill="#231f20" stroke="#231f20" stroke-width="0.30">0.5</text>
<line x1="383.50" y1="1451.95" x2="388.40" y2="1451.95" stroke="#231f20" stroke-width="1.8" stroke-linecap="butt"/>
<text x="381.35" y="1456.53" font-size="13.8" font-weight="bold" text-anchor="end" fill="#231f20" stroke="#231f20" stroke-width="0.30">1.0</text>
<line x1="383.50" y1="1434.92" x2="388.40" y2="1434.92" stroke="#231f20" stroke-width="1.8" stroke-linecap="butt"/>
<text x="381.35" y="1439.51" font-size="13.8" font-weight="bold" text-anchor="end" fill="#231f20" stroke="#231f20" stroke-width="0.30">1.5</text>
<line x1="383.50" y1="1417.90" x2="388.40" y2="1417.90" stroke="#231f20" stroke-width="1.8" stroke-linecap="butt"/>
<text x="381.35" y="1422.48" font-size="13.8" font-weight="bold" text-anchor="end" fill="#231f20" stroke="#231f20" stroke-width="0.30">2.0</text>
<line x1="383.50" y1="1400.88" x2="388.40" y2="1400.88" stroke="#231f20" stroke-width="1.8" stroke-linecap="butt"/>
<text x="381.35" y="1405.46" font-size="13.8" font-weight="bold" text-anchor="end" fill="#231f20" stroke="#231f20" stroke-width="0.30">2.5</text>
<line x1="383.50" y1="1383.85" x2="388.40" y2="1383.85" stroke="#231f20" stroke-width="1.8" stroke-linecap="butt"/>
<text x="381.35" y="1388.43" font-size="13.8" font-weight="bold" text-anchor="end" fill="#231f20" stroke="#231f20" stroke-width="0.30">3.0</text>
<line x1="383.50" y1="1366.83" x2="388.40" y2="1366.83" stroke="#231f20" stroke-width="1.8" stroke-linecap="butt"/>
<text x="381.35" y="1371.41" font-size="13.8" font-weight="bold" text-anchor="end" fill="#231f20" stroke="#231f20" stroke-width="0.30">3.5</text>
<line x1="383.50" y1="1349.80" x2="388.40" y2="1349.80" stroke="#231f20" stroke-width="1.8" stroke-linecap="butt"/>
<text x="381.35" y="1354.38" font-size="13.8" font-weight="bold" text-anchor="end" fill="#231f20" stroke="#231f20" stroke-width="0.30">4.0</text>
<line x1="383.50" y1="1332.78" x2="388.40" y2="1332.78" stroke="#231f20" stroke-width="1.8" stroke-linecap="butt"/>
<text x="381.35" y="1337.36" font-size="13.8" font-weight="bold" text-anchor="end" fill="#231f20" stroke="#231f20" stroke-width="0.30">4.5</text>
<line x1="383.50" y1="1315.75" x2="388.40" y2="1315.75" stroke="#231f20" stroke-width="1.8" stroke-linecap="butt"/>
<text x="381.35" y="1320.33" font-size="13.8" font-weight="bold" text-anchor="end" fill="#231f20" stroke="#231f20" stroke-width="0.30">5.0</text>
<line x1="383.50" y1="1298.72" x2="388.40" y2="1298.72" stroke="#231f20" stroke-width="1.8" stroke-linecap="butt"/>
<text x="381.35" y="1303.31" font-size="13.8" font-weight="bold" text-anchor="end" fill="#231f20" stroke="#231f20" stroke-width="0.30">5.5</text>
<text x="336.30" y="1393.10" font-size="15.25" font-weight="bold" text-anchor="middle" transform="rotate(-90 336.30 1393.10)" fill="#231f20" textLength="217.2" lengthAdjust="spacingAndGlyphs" stroke="#231f20" stroke-width="0.34">rel. mRNA expression/GAPDH</text>
<text x="353.20" y="1391.55" font-size="15.56" font-weight="bold" text-anchor="middle" transform="rotate(-90 353.20 1391.55)" fill="#231f20" textLength="180.7" lengthAdjust="spacingAndGlyphs" stroke="#231f20" stroke-width="0.34">(fold change vs. control)</text>
<rect x="398.20" y="1452.20" width="19.70" height="33.80" fill="#231f20" />
<line x1="438.05" y1="1437.90" x2="438.05" y2="1444.00" stroke="#231f20" stroke-width="1.8" stroke-linecap="butt"/>
<line x1="433.32" y1="1437.90" x2="442.78" y2="1437.90" stroke="#231f20" stroke-width="1.6" stroke-linecap="butt"/>
<rect x="429.50" y="1444.30" width="17.10" height="41.70" fill="#fff" stroke="#231f20" stroke-width="2.6" />
<line x1="486.95" y1="1312.10" x2="486.95" y2="1337.00" stroke="#231f20" stroke-width="1.8" stroke-linecap="butt"/>
<line x1="482.22" y1="1312.10" x2="491.68" y2="1312.10" stroke="#231f20" stroke-width="1.6" stroke-linecap="butt"/>
<rect x="477.10" y="1336.00" width="19.70" height="150.00" fill="#231f20" />
<line x1="517.05" y1="1307.10" x2="517.05" y2="1328.20" stroke="#231f20" stroke-width="1.8" stroke-linecap="butt"/>
<line x1="512.23" y1="1307.10" x2="521.87" y2="1307.10" stroke="#231f20" stroke-width="1.6" stroke-linecap="butt"/>
<rect x="508.30" y="1328.50" width="17.50" height="157.50" fill="#fff" stroke="#231f20" stroke-width="2.6" />
<line x1="422.90" y1="1486.00" x2="422.90" y2="1491.00" stroke="#231f20" stroke-width="1.6" stroke-linecap="butt"/>
<text x="427.40" y="1503.10" font-size="13.8" font-weight="bold" text-anchor="end" transform="rotate(-45 427.40 1503.10)" fill="#231f20" stroke="#231f20" stroke-width="0.30">0</text>
<line x1="501.70" y1="1486.00" x2="501.70" y2="1491.00" stroke="#231f20" stroke-width="1.6" stroke-linecap="butt"/>
<text x="506.20" y="1503.10" font-size="13.8" font-weight="bold" text-anchor="end" transform="rotate(-45 506.20 1503.10)" fill="#231f20" stroke="#231f20" stroke-width="0.30">5</text>
<text x="343.85" y="1525.80" font-size="13.7" font-weight="bold" text-anchor="start" fill="#231f20" textLength="127.6" lengthAdjust="spacingAndGlyphs" stroke="#231f20" stroke-width="0.30">concentration TGF-</text>
<text x="471.40" y="1525.80" font-size="13.7" font-weight="normal" text-anchor="start" fill="#231f20" stroke="#231f20" stroke-width="0.16">β</text>
<text x="484.14" y="1525.80" font-size="13.7" font-weight="bold" text-anchor="start" fill="#231f20" textLength="45.3" lengthAdjust="spacingAndGlyphs" stroke="#231f20" stroke-width="0.30">(ng/ml)</text>
</svg>
</body></html>
